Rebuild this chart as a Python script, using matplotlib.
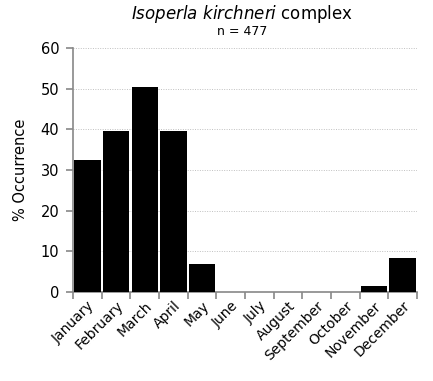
import matplotlib
matplotlib.use("Agg")
import matplotlib.pyplot as plt
import numpy as np

months = ["January", "February", "March", "April", "May", "June", "July",
          "August", "September", "October", "November", "December"]
occurrence = [32.4, 39.5, 50.3, 39.5, 6.8, 0, 0, 0, 0, 0, 1.5, 8.4]
yticks = [0, 10, 20, 30, 40, 50, 60]

plt.rcParams['font.family'] = ['DejaVu Sans']

fig = plt.figure(figsize=(4.33, 3.81), dpi=100)
ax = fig.add_axes([0.169, 0.234, 0.794, 0.640])

x = np.arange(len(months))
ax.bar(x, occurrence, width=0.92, color='black', zorder=3)

ax.set_xlim(-0.5, len(months) - 0.5)
ax.set_ylim(0, 60)
ax.set_yticks(yticks)
ax.set_yticklabels([str(v) for v in yticks], fontsize=10.5)
ax.yaxis.grid(True, linestyle=(0, (1, 1.5)), color='#c0c0c0', linewidth=0.7, zorder=0)

ax.set_xticks(np.arange(-0.5, len(months), 1.0), minor=False)
ax.set_xticklabels([])
ax.set_xticks(x, minor=True)
ax.set_xticklabels(months, minor=True, rotation=45, ha='right', va='top',
                   rotation_mode='anchor', fontsize=10)
ax.tick_params(axis='x', which='minor', length=0, pad=5)
ax.tick_params(axis='x', which='major', length=5, color='#888888', width=1.2, direction='out')
ax.tick_params(axis='y', length=5, color='#888888', width=1.2, direction='out', pad=5)

for s in ['top', 'right']:
    ax.spines[s].set_visible(False)
for s in ['left', 'bottom']:
    ax.spines[s].set_color('#888888')
    ax.spines[s].set_linewidth(1.2)

ax.set_ylabel('% Occurrence', fontsize=10.5, labelpad=9)

fig.text(0.56, 0.962, r'$\it{Isoperla\ kirchneri}$' + ' complex', ha='center', va='center', fontsize=12)
fig.text(0.56, 0.918, 'n = 477', ha='center', va='center', fontsize=9)

fig.savefig('out.png', dpi=100)
